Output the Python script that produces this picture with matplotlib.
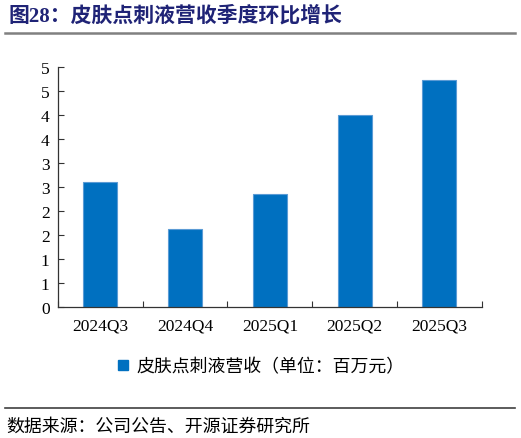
import matplotlib
matplotlib.use('Agg')
import matplotlib.pyplot as plt
from matplotlib.lines import Line2D
from matplotlib.ticker import FuncFormatter
import numpy as np

plt.rcParams['font.family'] = ['Liberation Serif', 'Noto Sans CJK SC']

# ── Data ──
quarters = ['2024Q3', '2024Q4', '2025Q1', '2025Q2', '2025Q3']
revenue = [2.59, 1.61, 2.34, 3.98, 4.71]   # 百万元
yticks = np.arange(0, 5.01, 0.5)

title = '图28：皮肤点刺液营收季度环比增长'
legend_label = '皮肤点刺液营收（单位：百万元）'
source = '数据来源：公司公告、开源证券研究所'

cjk = ['Noto Sans CJK SC', 'DejaVu Sans']

fig = plt.figure(figsize=(5.21, 4.39), dpi=100)
ax = fig.add_axes([0.1113, 0.2995, 0.8133, 0.5467])

x = np.arange(len(quarters))
ax.bar(x, revenue, width=0.4, color='#0070C0', edgecolor='#5B9BD5',
       linewidth=0.8, zorder=2)

ax.set_xlim(-0.5, len(quarters) - 0.5)
ax.set_ylim(0, 5)
ax.set_yticks(yticks)
# Excel-style rounding of half values
ax.yaxis.set_major_formatter(FuncFormatter(lambda v, p: f'{int(np.floor(v + 0.5))}'))
ax.set_xticks(x)
ax.set_xticklabels(quarters)
ax.set_xticks(np.arange(-0.5, len(quarters)), minor=True)

for s in ['top', 'right']:
    ax.spines[s].set_visible(False)
ax.spines['left'].set_color('#333333')
ax.spines['bottom'].set_color('#333333')
ax.spines['left'].set_linewidth(0.9)
ax.spines['bottom'].set_linewidth(0.9)

ax.tick_params(axis='y', direction='in', length=4, width=0.8, labelsize=12.5,
               pad=6, colors='#333333', labelcolor='black')
ax.tick_params(axis='x', which='major', length=0, labelsize=12.5, pad=8)
ax.tick_params(axis='x', which='minor', direction='in', length=4, width=0.8,
               colors='#333333')

# Legend
handle = Line2D([], [], marker='s', linestyle='none', markersize=7,
                markerfacecolor='#0070C0', markeredgecolor='#0070C0')
fig.legend([handle], [legend_label], loc='center', bbox_to_anchor=(0.497, 1 - 367 / 439),
           frameon=False, prop={'family': cjk, 'size': 12.9},
           handletextpad=0.25, handlelength=1.0)

# Title and separators
fig.text(8 / 521, 1 - 16 / 439, title, ha='left', va='center',
         fontsize=15, fontweight='bold', color='#1F2376',
         family=['Liberation Serif', 'Noto Sans CJK SC'])
fig.add_artist(Line2D([5 / 521, 515 / 521], [1 - 33.5 / 439] * 2,
                      color='#808080', linewidth=1.8))
fig.add_artist(Line2D([5 / 521, 515 / 521], [1 - 409 / 439] * 2,
                      color='#404040', linewidth=1.2))
fig.text(6 / 521, 1 - 427 / 439, source, ha='left', va='center',
         fontsize=12.9, color='black', family=cjk)

fig.savefig('out.png', dpi=100)
